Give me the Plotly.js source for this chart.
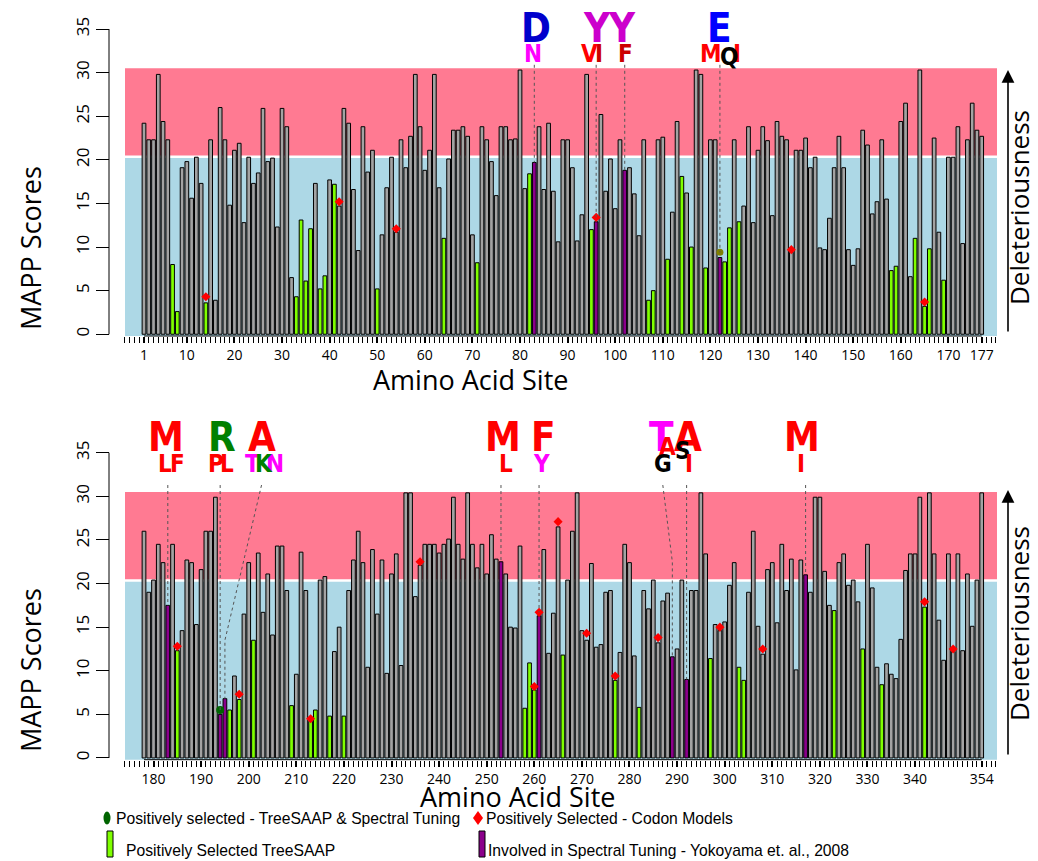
<!DOCTYPE html>
<html><head><meta charset="utf-8">
<script src="https://cdn.plot.ly/plotly-3.0.1.min.js"></script>
<style>html,body{margin:0;padding:0;background:#fff}#chart{width:1038px;height:861px}</style>
</head><body><div id="chart"></div>
<script>
// ---------------- DATA ----------------
const topFirstSite = 1;
const topScores = [
24.2,22.3,22.3,29.8,24.4,22.3,8.0,2.6,19.1,19.8,
15.6,20.3,17.3,3.6,22.3,3.9,26.0,22.3,14.8,21.1,
21.9,12.8,20.3,17.3,18.5,25.9,19.8,20.2,12.3,25.9,
23.8,6.5,4.3,13.1,6.1,12.1,17.3,5.2,6.7,17.7,
17.2,14.7,25.9,24.2,16.6,9.6,23.8,18.6,21.1,5.2,
11.4,16.8,20.3,11.7,22.3,19.1,22.7,29.8,23.8,18.8,
21.1,29.8,16.8,11.0,20.1,23.4,23.4,23.8,22.7,11.4,
8.2,23.8,22.3,19.8,15.9,23.8,23.8,22.3,22.4,30.3,
16.7,18.4,19.7,23.8,16.6,24.2,16.4,10.6,22.3,22.3,
19.1,10.7,13.7,29.8,12.0,12.9,25.2,16.4,20.1,14.4,
22.3,18.8,19.1,16.1,11.3,22.3,3.9,5.0,22.3,22.6,
8.6,14.0,24.4,18.1,16.2,10.0,30.3,29.8,7.6,22.3,
22.3,8.8,8.3,12.2,22.3,12.9,14.7,23.8,12.8,21.1,
23.8,22.2,13.6,24.4,22.7,22.3,9.4,21.1,21.1,22.5,
19.1,20.3,9.9,9.7,13.3,19.1,22.7,19.1,9.7,7.9,
9.8,23.4,21.7,13.8,15.2,22.3,15.5,7.3,7.8,24.4,
26.5,6.6,11.0,30.3,3.2,9.8,22.5,11.7,6.2,20.3,
20.3,23.8,10.4,22.3,26.5,23.4,22.7];
const topGreenSites = [7,8,14,33,34,35,36,38,39,41,50,64,71,82,95,107,108,111,114,116,119,123,124,126,158,159,163,165,166,169];
const topPurpleSites = [83,96,102,122];
const topCodonSites = [14,42,54,96,137,165];
const topCodonScores = [4.3,15.2,12.1,13.4,9.7,3.7];
const topBothSites = [122];
const topBothScores = [9.4];
const topTickVals = [1,10,20,30,40,50,60,70,80,90,100,110,120,130,140,150,160,170,177];
const topTickText = ["1","10","20","30","40","50","60","70","80","90","100","110","120","130","140","150","160","170","177"];

const bottomFirstSite = 178;
const bottomScores = [
26.0,19.0,20.4,24.5,22.4,17.5,24.5,12.3,14.6,22.7,
22.4,15.3,21.6,26.0,26.0,29.9,5.0,6.8,5.5,9.4,
6.7,16.5,22.4,13.5,23.5,16.7,21.1,14.1,24.3,24.3,
19.2,6.0,9.6,23.6,19.2,4.2,5.5,20.4,20.8,4.8,
12.2,15.0,4.8,19.2,22.7,26.0,22.4,10.4,23.9,16.5,
22.7,9.7,21.1,23.4,10.6,30.4,30.4,18.5,22.1,24.5,
24.5,24.5,23.5,24.5,25.1,29.9,24.5,22.8,30.4,24.5,
21.8,24.5,21.1,25.6,22.8,22.5,21.1,15.0,14.9,24.3,
5.7,10.9,7.8,16.3,23.9,12.0,16.6,26.5,11.8,20.4,
26.0,30.4,14.6,13.5,22.3,12.7,13.0,19.0,19.2,8.9,
12.1,24.5,22.4,11.7,5.8,19.2,17.1,20.4,13.2,18.0,
18.9,11.6,12.5,20.4,9.0,19.2,19.2,30.4,23.4,11.4,
15.3,14.6,15.6,19.8,22.4,10.4,8.9,19.0,26.0,15.1,
11.9,21.6,22.4,15.5,24.5,19.2,22.8,10.1,22.7,21.0,
19.0,29.9,29.9,21.4,17.5,16.9,22.4,23.4,19.8,20.4,
17.9,12.5,24.5,19.5,10.4,8.4,10.8,9.6,9.1,13.6,
21.5,23.4,23.4,29.9,17.3,30.4,23.4,15.8,11.2,23.4,
12.2,23.4,12.3,21.1,15.1,20.4,30.4];
const bottomGreenSites = [185,196,198,201,209,213,214,217,220,258,259,260,266,277,282,297,303,304,323,329,333,342];
const bottomPurpleSites = [183,194,195,253,261,289,292,317];
const bottomCodonSites = [185,198,213,236,260,261,265,271,277,286,299,308,342,348];
const bottomCodonScores = [12.8,7.3,4.5,22.5,8.2,16.7,27.1,14.3,9.4,13.8,15.0,12.5,17.9,12.5];
const bottomBothSites = [194];
const bottomBothScores = [5.5];
const bottomTickVals = [180,190,200,210,220,230,240,250,260,270,280,290,300,310,320,330,340,354];
const bottomTickText = ["180","190","200","210","220","230","240","250","260","270","280","290","300","310","320","330","340","354"];

const legendLabels = ["Positively selected - TreeSAAP & Spectral Tuning","Positively Selected - Codon Models","Positively Selected TreeSAAP","Involved in Spectral Tuning - Yokoyama et. al., 2008"];

// ---------------- STYLE ----------------
const W = 1038, H = 861;
const GREY = "#A3A3A3", GREEN = "#7FFF00", PURPLE = "#8B008B";
const BLUE_BG = "#ADD8E6", PINK_BG = "#FF7A92";
const px = v => v / W;
const py = v => 1 - v / H;

const topSites = topScores.map((_, i) => topFirstSite + i);
const bottomSites = bottomScores.map((_, i) => bottomFirstSite + i);
function colors(sites, green, purple) {
  return sites.map(s => purple.includes(s) ? PURPLE : (green.includes(s) ? GREEN : GREY));
}

function barTrace(sites, scores, green, purple, xa, ya) {
  return {type: 'bar', x: sites, y: scores, xaxis: xa, yaxis: ya, width: 0.78,
    marker: {color: colors(sites, green, purple), line: {color: '#000', width: 1}},
    hoverinfo: 'x+y', showlegend: false};
}
function dotTrace(sites, scores, xa, ya, sym, col, size) {
  return {type: 'scatter', mode: 'markers', x: sites, y: scores, xaxis: xa, yaxis: ya,
    marker: {symbol: sym, color: col, size: size, line: {width: 0}}, showlegend: false, cliponaxis: false};
}

const traces = [
  barTrace(topSites, topScores, topGreenSites, topPurpleSites, 'x', 'y'),
  dotTrace(topCodonSites, topCodonScores, 'x', 'y', 'diamond', '#FF0000', 7),
  dotTrace(topBothSites, topBothScores, 'x', 'y', 'circle', '#808000', 7),
  barTrace(bottomSites, bottomScores, bottomGreenSites, bottomPurpleSites, 'x2', 'y2'),
  dotTrace(bottomCodonSites, bottomCodonScores, 'x2', 'y2', 'diamond', '#FF0000', 7),
  dotTrace(bottomBothSites, bottomBothScores, 'x2', 'y2', 'circle', '#006400', 8)
];

const XSTEP = 4.7597;           // px per site
const leftPad = (144 - 125) / XSTEP, span = 872 / XSTEP;
const topRange = [topFirstSite - leftPad, topFirstSite - leftPad + span];
const botRange = [bottomFirstSite - leftPad, bottomFirstSite - leftPad + span];
const xDomain = [px(125), px(997)];
const topYDomain = [py(336), py(24.7)];
const botYDomain = [py(759.7), py(448.4)];

function xAxis(range, anchor, vals, text) {
  return {domain: xDomain, range: range, anchor: anchor, tickmode: 'array', tickvals: vals, ticktext: text,
    ticks: 'outside', ticklen: 6, tickwidth: 2, tickcolor: '#000', showline: false, showgrid: false, zeroline: false,
    tickfont: {size: 14, color: '#000', family: 'Open Sans'}, fixedrange: true,
    minor: {ticks: 'outside', ticklen: 6, tickwidth: 1, tickcolor: '#000', tickmode: 'linear', tick0: 0, dtick: 1, showgrid: false}};
}
function yAxis(domain) {
  return {domain: domain, range: [-0.2, 35.5], anchor: 'free', position: px(109), side: 'left',
    tickmode: 'array', tickvals: [0,5,10,15,20,25,30,35], ticks: 'outside', ticklen: 13, tickcolor: '#000',
    tickangle: -90, tickfont: {size: 17, color: '#000', family: 'Open Sans'},
    showline: false, showgrid: false, zeroline: false, fixedrange: true};
}

const shapes = [];
function panelBg(xr, yr, xRange, yDomBottom, first, last) {
  shapes.push({type: 'rect', xref: xr, yref: yr, x0: xRange[0], x1: xRange[1], y0: -0.3, y1: 20.35, fillcolor: BLUE_BG, line: {width: 0}, layer: 'below'});
  shapes.push({type: 'rect', xref: xr, yref: yr, x0: xRange[0], x1: xRange[1], y0: 20.35, y1: 30.5, fillcolor: PINK_BG, line: {width: 0}, layer: 'below'});
  shapes.push({type: 'line', xref: xr, yref: yr, x0: xRange[0], x1: xRange[1], y0: 20.35, y1: 20.35, line: {color: '#fff', width: 2.5}, layer: 'below'});
  shapes.push({type: 'line', xref: xr, yref: 'paper', x0: first, x1: last, y0: yDomBottom, y1: yDomBottom, line: {color: '#000', width: 1}});
  shapes.push({type: 'line', xref: 'paper', yref: yr, x0: px(109), x1: px(109), y0: 0, y1: 35, line: {color: '#000', width: 1}});
}
panelBg('x', 'y', topRange, topYDomain[0], topSites[0], topSites[topSites.length-1]);
panelBg('x2', 'y2', botRange, botYDomain[0], bottomSites[0], bottomSites[bottomSites.length-1]);

const DOT = {color: '#555', width: 1, dash: 'dot'};
function vline(xr, yr, x, y0, y1) { shapes.push({type: 'line', xref: xr, yref: yr, x0: x, x1: x, y0: y0, y1: y1, line: DOT}); }
function pline(xr, yr, pts) {
  shapes.push({type: 'path', xref: xr, yref: yr, path: 'M ' + pts.map(p => p[0] + ',' + p[1]).join(' L '), line: DOT});
}
vline('x', 'y', 83, 30.9, 19.7);
vline('x', 'y', 96, 30.9, 13.4);
vline('x', 'y', 102, 30.9, 18.8);
vline('x', 'y', 122, 30.9, 9.4);
vline('x2', 'y2', 183, 31.3, 17.5);
vline('x2', 'y2', 194, 31.3, 5.5);
pline('x2', 'y2', [[202.7, 31.3], [195, 13.5], [195, 6.8]]);
vline('x2', 'y2', 253, 31.3, 22.5);
vline('x2', 'y2', 261, 31.3, 16.7);
pline('x2', 'y2', [[287, 31.3], [289, 22.5], [289, 11.6]]);
vline('x2', 'y2', 292, 31.3, 9.0);
vline('x2', 'y2', 317, 31.3, 21.0);

// legend shapes
shapes.push({type: 'circle', xref: 'paper', yref: 'paper', x0: px(103.5), x1: px(110.5), y0: py(824.5), y1: py(811.5), fillcolor: '#006400', line: {width: 0}});
shapes.push({type: 'path', xref: 'paper', yref: 'paper', path: `M ${px(473)},${py(818)} L ${px(478)},${py(811)} L ${px(483)},${py(818)} L ${px(478)},${py(825)} Z`, fillcolor: '#FF0000', line: {width: 0}});
shapes.push({type: 'rect', xref: 'paper', yref: 'paper', x0: px(107), x1: px(113), y0: py(857), y1: py(831), fillcolor: GREEN, line: {color: '#000', width: 1}});
shapes.push({type: 'rect', xref: 'paper', yref: 'paper', x0: px(479), x1: px(485), y0: py(857), y1: py(831), fillcolor: PURPLE, line: {color: '#000', width: 1}});

const annotations = [];
const LOGO = "'DejaVu Sans Condensed', 'Liberation Sans Narrow', 'DejaVu Sans', sans-serif";
// x in site units on the given x axis, y in pixels from the top of the page
function letter(xr, x, yPix, t, col, size) {
  annotations.push({xref: xr, yref: 'paper', x: x, y: py(yPix), text: '<b>' + t + '</b>', showarrow: false,
    xanchor: 'center', yanchor: 'middle', font: {family: LOGO, size: size, color: col}});
}
const BIG = 40, SM = 24;
const T_BIG = 28, T_SM = 53.5, B_BIG = 437, B_SM = 464;
// top panel
letter('x', 83.36, T_BIG, 'D', '#0000CC', BIG);
letter('x', 82.7, T_SM, 'N', '#FF00FF', SM);
letter('x', 96.2, T_BIG, 'Y', '#CC00CC', BIG);
letter('x', 94.6, T_SM, 'V', '#FF0000', SM);
letter('x', 96.5, T_SM, 'I', '#CC0000', SM);
letter('x', 101.4, T_BIG, 'Y', '#CC00CC', BIG);
letter('x', 102.1, T_SM, 'F', '#CC0000', SM);
letter('x', 122.0, T_BIG, 'E', '#0000FF', BIG);
letter('x', 120.2, T_SM, 'M', '#FF0000', SM);
letter('x', 125.6, T_SM, 'I', '#FF0000', SM);
letter('x', 123.9, T_SM + 3, 'Q', '#000000', SM);
// bottom panel
letter('x2', 182.7, B_BIG, 'M', '#FF0000', BIG);
letter('x2', 182.4, B_SM, 'L', '#FF0000', SM);
letter('x2', 185.1, B_SM, 'F', '#FF0000', SM);
letter('x2', 194.4, B_BIG, 'R', '#008000', BIG);
letter('x2', 193.1, B_SM, 'P', '#FF0000', SM);
letter('x2', 195.5, B_SM, 'L', '#FF0000', SM);
letter('x2', 202.7, B_BIG, 'A', '#FF0000', BIG);
letter('x2', 200.7, B_SM, 'T', '#FF00FF', SM);
letter('x2', 205.6, B_SM, 'N', '#FF00FF', SM);
letter('x2', 203.3, B_SM, 'K', '#008000', SM);
letter('x2', 253.4, B_BIG, 'M', '#FF0000', BIG);
letter('x2', 254.1, B_SM, 'L', '#FF0000', SM);
letter('x2', 261.95, B_BIG, 'F', '#FF0000', BIG);
letter('x2', 261.6, B_SM, 'Y', '#FF00FF', SM);
letter('x2', 286.8, B_BIG, 'T', '#FF00FF', BIG);
letter('x2', 287.9, 447, 'A', '#FF0000', SM);
letter('x2', 287.0, B_SM, 'G', '#000000', SM);
letter('x2', 292.3, B_BIG, 'A', '#FF0000', BIG);
letter('x2', 291.3, 451, 'S', '#000000', SM);
letter('x2', 292.4, B_SM, 'I', '#FF0000', SM);
letter('x2', 316.2, B_BIG, 'M', '#FF0000', BIG);
letter('x2', 316.0, B_SM, 'I', '#FF0000', SM);

function label(x, y, t, size, angle, anchor) {
  annotations.push({xref: 'paper', yref: 'paper', x: x, y: y, text: t, showarrow: false, textangle: angle || 0,
    xanchor: anchor || 'center', yanchor: 'middle', font: {family: 'Open Sans', size: size, color: '#000'}});
}
label(px(470), py(380), 'Amino Acid Site', 27);
label(px(517), py(796), 'Amino Acid Site', 27);
label(px(30), py(248), 'MAPP Scores', 27, -90);
label(px(30), py(670), 'MAPP Scores', 27, -90);
label(px(1019), py(208), 'Deleteriousness', 26, -90);
label(px(1019), py(624), 'Deleteriousness', 26, -90);

// arrows
[[70, 333], [490, 756]].forEach(([head, tail]) => {
  annotations.push({xref: 'paper', yref: 'paper', x: px(1008), y: py(head), ax: 0, ay: tail - head, axref: 'pixel', ayref: 'pixel',
    text: '', showarrow: true, arrowhead: 2, arrowsize: 1.6, arrowwidth: 1.6, arrowcolor: '#000', standoff: 0, startstandoff: 0});
});

// legend text
function legText(x, y, t) {
  annotations.push({xref: 'paper', yref: 'paper', x: px(x), y: py(y), text: t, showarrow: false, xanchor: 'left', yanchor: 'middle',
    font: {family: "'Liberation Sans', Arial, sans-serif", size: 15.7, color: '#000'}});
}
legText(114, 818, legendLabels[0]);
legText(484, 818, legendLabels[1]);
legText(124, 850, legendLabels[2]);
legText(486, 850, legendLabels[3]);

const layout = {
  width: W, height: H, margin: {l: 0, r: 0, t: 0, b: 0},
  paper_bgcolor: '#fff', plot_bgcolor: 'rgba(0,0,0,0)',
  font: {family: 'Open Sans', color: '#000'},
  showlegend: false, bargap: 0,
  xaxis: xAxis(topRange, 'y', topTickVals, topTickText),
  yaxis: yAxis(topYDomain),
  xaxis2: xAxis(botRange, 'y2', bottomTickVals, bottomTickText),
  yaxis2: yAxis(botYDomain),
  shapes: shapes, annotations: annotations
};

Plotly.newPlot('chart', traces, layout, {displayModeBar: false, staticPlot: true});
</script></body></html>
